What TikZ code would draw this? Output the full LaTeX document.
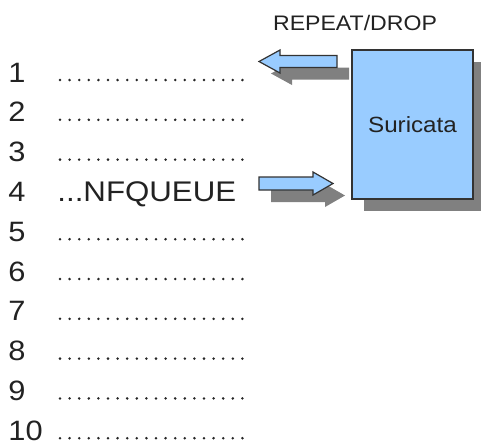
\documentclass[tikz,border=0pt]{standalone}
\usepackage{fontspec}
\setmainfont{Liberation Sans}[FakeStretch=1.1]
\usetikzlibrary{shadows,positioning}
\definecolor{suriblue}{HTML}{99CCFF}
\definecolor{suriedge}{HTML}{333333}
\definecolor{surishadow}{HTML}{808080}
\definecolor{suritext}{HTML}{222222}

\begin{document}
\begin{tikzpicture}[x=0.5pt, y=-0.5pt,
  every node/.style={inner sep=0pt, text=suritext},
  flatshadow/.style={drop shadow={shadow xshift=6pt, shadow yshift=-6pt,
    fill=surishadow, opacity=1}},
  engine/.style={draw=suriedge, fill=suriblue, line width=0.6pt, flatshadow,
    minimum width=60.5pt, minimum height=74.5pt, font=\fontsize{11}{13}\selectfont},
  blockarrow/.style={draw=suriedge, fill=suriblue, line width=0.6pt, flatshadow},
  rownum/.style={anchor=base west, font=\fontsize{14}{16}\selectfont},
  rowdots/.style={line width=1.4pt, line cap=round, dash pattern=on 0pt off 4.8pt,
    black!85}]
\useasboundingbox (0,0) rectangle (481,447);

% Suricata engine
\node[engine] (suri) at (412.5,124.5) {Suricata};
\node[anchor=base, font=\fontsize{10.5}{12}\selectfont] (verdict) at (355,30) {REPEAT/DROP};

% verdict back to the table, packet out to the engine
\path[blockarrow] (259,61.5) -- (280,50) -- (280,55.5) -- (337,55.5)
  -- (337,67.5) -- (280,67.5) -- (280,73) -- cycle;
\path[blockarrow] (333,183.5) -- (313,172) -- (313,177) -- (259,177)
  -- (259,190) -- (313,190) -- (313,195) -- cycle;

% rule table
\foreach \i in {1,...,10} {
  \pgfmathsetmacro{\rowy}{82+39.8*(\i-1)}
  \node[rownum] (num\i) at (8,\rowy) {\i};
  \ifnum\i=4
    \node[rownum, font=\fontsize{14.2}{16}\selectfont] (rule\i) at (57,\rowy) {...NFQUEUE};
  \else
    \draw[rowdots] (60,\rowy-2) -- (243,\rowy-2);
  \fi
}
\end{tikzpicture}
\end{document}
